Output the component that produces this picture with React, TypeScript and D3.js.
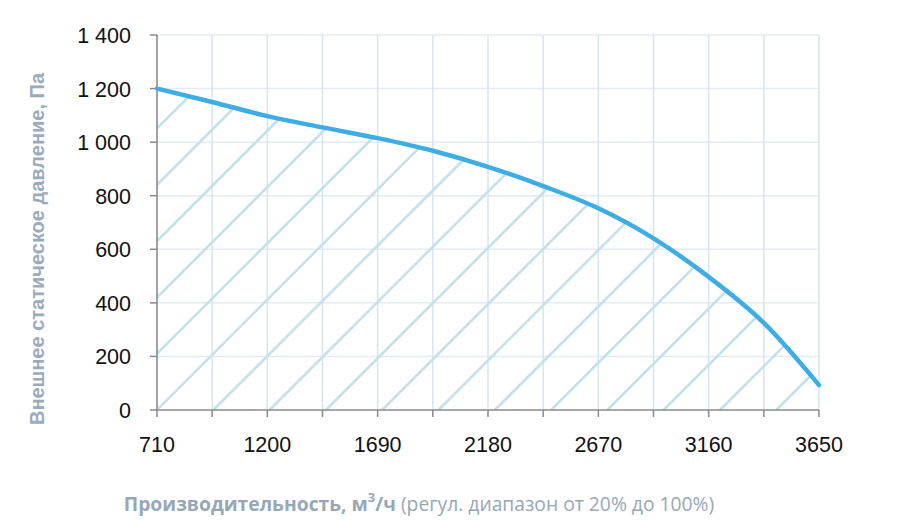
import React from "react";
import * as d3 from "d3";

const flowValues = [710, 955, 1200, 1445, 1690, 1935, 2180, 2425, 2670, 2915, 3160, 3405, 3650];
const pressureValues = [1200, 1150, 1097, 1055, 1015, 968, 908, 836, 753, 641, 497, 325, 93];
const xTickLabels = [710, 1200, 1690, 2180, 2670, 3160, 3650];
const xGridValues = [710, 955, 1200, 1445, 1690, 1935, 2180, 2425, 2670, 2915, 3160, 3405, 3650];
const yTickValues = [0, 200, 400, 600, 800, 1000, 1200, 1400];
const yTitle = "Внешнее статическое давление, Па";
const xTitleBold = "Производительность, м";
const xTitleUnit = "/ч";
const xTitleRest = " (регул. диапазон от 20% до 100%)";

const W = 912;
const H = 526;
const left = 157;
const right = 819;
const top = 35;
const bottom = 410;

export default function App() {
  const x = d3.scaleLinear().domain([710, 3650]).range([left, right]);
  const y = d3.scaleLinear().domain([0, 1400]).range([bottom, top]);
  const pts: [number, number][] = flowValues.map((f, i) => [f, pressureValues[i]]);
  const line = d3
    .line<[number, number]>()
    .x((d) => x(d[0]))
    .y((d) => y(d[1]))
    .curve(d3.curveMonotoneX);
  const area = d3
    .area<[number, number]>()
    .x((d) => x(d[0]))
    .y0(bottom)
    .y1((d) => y(d[1]))
    .curve(d3.curveMonotoneX);
  const hatchStep = 56.3;
  const hatch = d3.range(-9, 14).map((k) => left + hatchStep * k);
  const fmt = (v: number) => (v >= 1000 ? `${Math.floor(v / 1000)} ${String(v % 1000).padStart(3, "0")}` : `${v}`);
  const font = "'Liberation Sans', Arial, sans-serif";

  return (
    <svg
      width={W}
      height={H}
      style={{ position: "absolute", left: 0, top: 0, background: "#fff" }}
    >
      <defs>
        <clipPath id="under">
          <path d={area(pts) || ""} />
        </clipPath>
      </defs>
      {/* grid */}
      {yTickValues.filter((v) => v > 0).map((v) => (
        <line key={"h" + v} x1={left} x2={right} y1={y(v)} y2={y(v)} stroke="#e4ebf4" strokeWidth={1.5} />
      ))}
      {xGridValues.map((v) => (
        <line key={"v" + v} x1={x(v)} x2={x(v)} y1={top} y2={bottom} stroke="#d8e3f2" strokeWidth={1.5} />
      ))}
      {/* hatch */}
      <g clipPath="url(#under)">
        {hatch.map((x0, i) => (
          <line
            key={"ht" + i}
            x1={x0}
            y1={bottom}
            x2={x0 + (bottom - top)}
            y2={top}
            stroke="#c4e0ea"
            strokeWidth={2.6}
          />
        ))}
      </g>
      {/* axes */}
      <line x1={left} x2={left} y1={top} y2={bottom} stroke="#8a8a8a" strokeWidth={1.5} />
      <line x1={left} x2={right} y1={bottom} y2={bottom} stroke="#8a8a8a" strokeWidth={1.5} />
      {yTickValues.map((v) => (
        <g key={"yt" + v}>
          <line x1={left - 7} x2={left} y1={y(v)} y2={y(v)} stroke="#8a8a8a" strokeWidth={1.5} />
          <text
            x={131}
            y={y(v) + 8}
            textAnchor="end"
            fontFamily={font}
            fontSize={21.5}
            fill="#111"
          >
            {fmt(v)}
          </text>
        </g>
      ))}
      {xGridValues.map((v) => (
        <line key={"xt" + v} x1={x(v)} x2={x(v)} y1={bottom} y2={bottom + 7} stroke="#8a8a8a" strokeWidth={1.5} />
      ))}
      {xTickLabels.map((v) => (
        <text
          key={"xl" + v}
          x={x(v)}
          y={452}
          textAnchor="middle"
          fontFamily={font}
          fontSize={21.5}
          fill="#111"
        >
          {v}
        </text>
      ))}
      {/* curve */}
      <path d={line(pts) || ""} fill="none" stroke="#3dade3" strokeWidth={4.5} strokeLinecap="round" />
      {/* titles */}
      <text
        transform={`translate(44,249) rotate(-90)`}
        textAnchor="middle"
        fontFamily={font}
        fontWeight="bold"
        fontSize={20}
        fill="#9aabbb"
      >
        {yTitle}
      </text>
      <text
        x={419}
        y={511}
        textAnchor="middle"
        fontFamily="'Open Sans', sans-serif"
        fontSize={19.3}
        fill="#97a7b7"
      >
        <tspan fontWeight="bold">{xTitleBold}</tspan>
        <tspan fontWeight="bold" fontSize={13} dy={-9}>3</tspan>
        <tspan fontWeight="bold" dy={9}>{xTitleUnit}</tspan>
        <tspan>{xTitleRest}</tspan>
      </text>
    </svg>
  );
}
